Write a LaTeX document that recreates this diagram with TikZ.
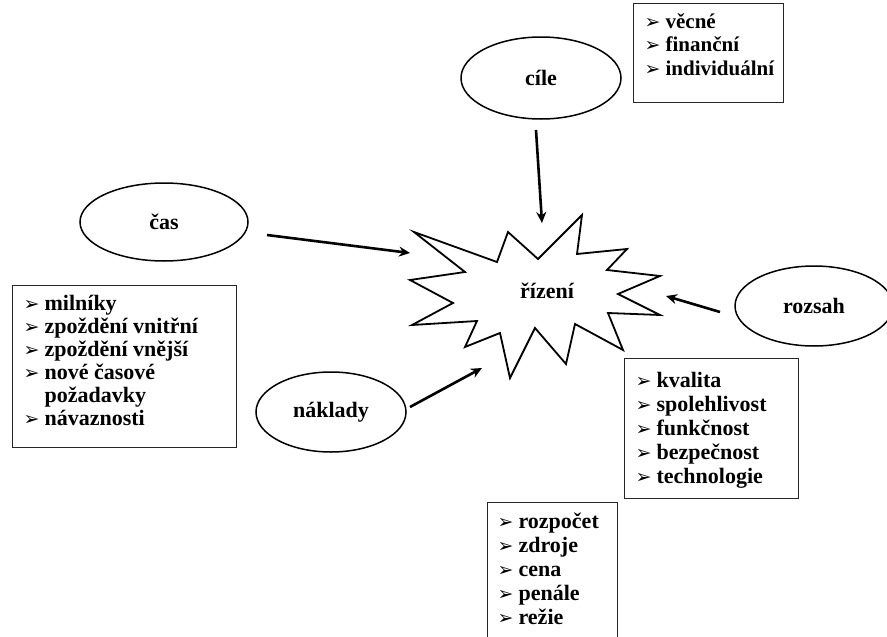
\documentclass[tikz,border=0pt]{standalone}
\usepackage{fontspec}
\setmainfont{Liberation Serif}
\newfontfamily\bulletfont{DejaVu Sans}
\usetikzlibrary{shapes.geometric,arrows.meta}
% arrowhead bullet followed by a fixed indent
\newcommand{\itm}{\makebox[21pt][l]{\bulletfont\fontsize{19}{19}\selectfont ➢}}
\newcommand{\ind}{\hspace*{21pt}}
\tikzset{
  every node/.style={font=\fontsize{22}{23}\selectfont\bfseries},
  oval/.style={ellipse, draw, line width=1.5pt, inner sep=0pt},
  listbox/.style={draw=black!85, line width=1.2pt, anchor=north west, inner sep=0pt},
  burst/.style={draw, line width=1.8pt, line join=miter},
  link/.style={line width=2.6pt, -{Stealth[length=11pt,width=10pt]}},
}
\begin{document}
\begin{tikzpicture}[x=1pt,y=-1pt]
\useasboundingbox (0,0) rectangle (887,637);
\clip (0,0) rectangle (887,637);

% central burst
\draw[burst] (414,232) -- (497,262) -- (508,232) -- (538,259) -- (582,215)
  -- (577,254) -- (627,249) -- (607,270) -- (660,276) -- (618,294)
  -- (660,315) -- (608,313) -- (623,350) -- (575,324) -- (566,364)
  -- (535,328) -- (510,378) -- (500,333) -- (465,347) -- (477,321)
  -- (412,325) -- (453,303) -- (410,280) -- (465,272) -- cycle;
\node (riz) at (547,291) {řízení};

% topic ellipses
\node[oval, minimum width=160pt, minimum height=82pt] (cile) at (541,78) {cíle};
\node[oval, minimum width=168pt, minimum height=78pt] (cas) at (164,222) {čas};
\node[oval, minimum width=158pt, minimum height=80pt] (rozsah) at (814,306) {rozsah};
\node[oval, minimum width=150pt, minimum height=80pt] (naklady) at (331,412) {náklady};

% arrow end points
\coordinate (cileA) at (536,130);  \coordinate (cileB) at (542,223);
\coordinate (casA) at (267,235);   \coordinate (casB) at (410,253);
\coordinate (rozA) at (720,312);   \coordinate (rozB) at (666,296);
\coordinate (nakA) at (410,407);   \coordinate (nakB) at (482,368);
\draw[link] (cileA) -- (cileB);
\draw[link] (casA) -- (casB);
\draw[link] (rozA) -- (rozB);
\draw[link] (nakA) -- (nakB);

% detail lists
\node[listbox] (cileList) at (633,3) {\parbox[c][99pt][t]{150pt}{\leftskip=11pt
  \fontsize{21}{23.5}\selectfont
  \rule{0pt}{24.5pt}\itm věcné\\ \itm finanční\\ \itm individuální\par}};
\node[listbox] (casList) at (12,285) {\parbox[c][162pt][t]{224pt}{\leftskip=11pt
  \baselineskip=23pt
  \rule{0pt}{24.5pt}\itm milníky\\ \itm zpoždění vnitřní\\ \itm zpoždění vnější\\
  \itm nové časové\\ \ind požadavky\\ \itm návaznosti\par}};
\node[listbox] (rozsahList) at (624,358) {\parbox[c][140pt][t]{174pt}{\leftskip=11pt
  \baselineskip=24pt
  \rule{0pt}{28.5pt}\itm kvalita\\ \itm spolehlivost\\ \itm funkčnost\\
  \itm bezpečnost\\ \itm technologie\par}};
\node[listbox] (nakladyList) at (487,502) {\parbox[c][150pt][t]{130pt}{\leftskip=10pt
  \baselineskip=24pt
  \rule{0pt}{25.5pt}\itm rozpočet\\ \itm zdroje\\ \itm cena\\
  \itm penále\\ \itm režie\par}};
\end{tikzpicture}
\end{document}
